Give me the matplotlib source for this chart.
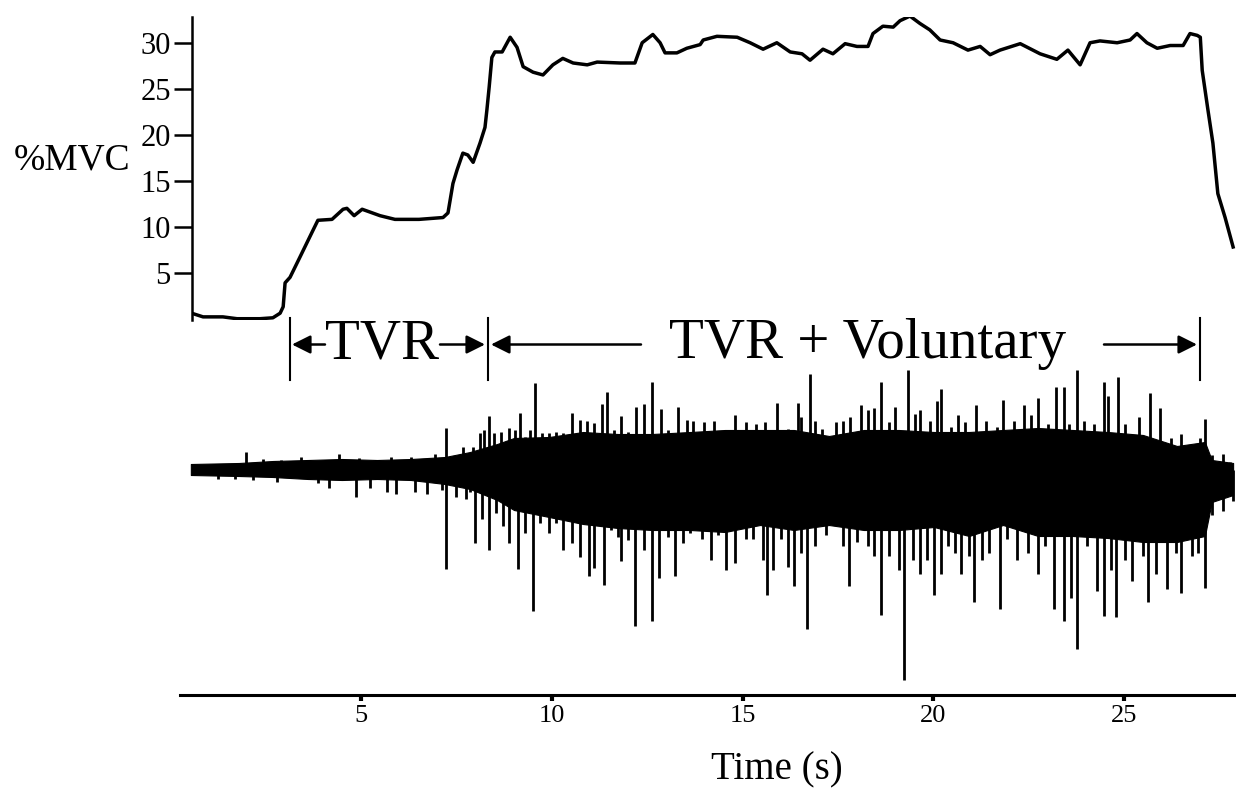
import matplotlib
matplotlib.use("Agg")
import matplotlib.pyplot as plt

plt.rcParams['font.family'] = ['Liberation Serif', 'DejaVu Serif']

# force trace (%MVC)
force_t = [0.56, 0.86, 1.38, 1.75, 2.35, 2.69, 2.88, 2.96, 3.01, 3.14, 3.40, 3.74, 3.87,
           4.24, 4.53, 4.63, 4.82, 5.03, 5.50, 5.89, 6.52, 7.15, 7.28, 7.41, 7.52, 7.67,
           7.80, 7.94, 8.12, 8.25, 8.30, 8.36, 8.43, 8.51, 8.70, 8.91, 9.09, 9.25, 9.51,
           9.77, 10.03, 10.29, 10.56, 10.93, 11.19, 11.79, 12.18, 12.37, 12.65, 12.84,
           12.97, 13.28, 13.54, 13.89, 13.97, 14.33, 14.86, 15.20, 15.54, 15.90, 16.25,
           16.56, 16.77, 17.11, 17.37, 17.69, 18.00, 18.29, 18.42, 18.68, 18.95, 19.13,
           19.39, 19.65, 19.91, 20.18, 20.52, 20.91, 21.23, 21.49, 21.75, 22.28, 22.80,
           23.24, 23.53, 23.85, 24.11, 24.37, 24.82, 25.16, 25.34, 25.60, 25.87, 26.21,
           26.55, 26.73, 26.92, 27.00, 27.05, 27.20, 27.33, 27.46, 27.65, 27.86]
force_v = [0.6, 0.2, 0.2, 0.0, 0.0, 0.1, 0.6, 1.3, 3.9, 4.5, 6.7, 9.6, 10.7,
           10.8, 11.9, 12.0, 11.2, 11.9, 11.2, 10.8, 10.8, 11.0, 11.5, 14.7, 16.2, 18.0,
           17.8, 17.0, 19.1, 20.8, 22.7, 25.2, 28.4, 29.0, 29.0, 30.6, 29.5, 27.4, 26.8,
           26.5, 27.6, 28.3, 27.8, 27.6, 27.9, 27.8, 27.8, 30.0, 30.9, 30.0,
           28.9, 28.9, 29.4, 29.8, 30.3, 30.7, 30.6, 30.0, 29.3, 30.0, 29.0,
           28.8, 28.1, 29.3, 28.8, 29.9, 29.6, 29.6, 31.0, 31.8, 31.7, 32.4,
           32.9, 32.1, 31.4, 30.3, 30.0, 29.2, 29.6, 28.7, 29.2, 29.9, 28.8,
           28.2, 29.2, 27.6, 30.0, 30.2, 30.0, 30.3, 31.0, 30.0, 29.4, 29.7,
           29.7, 31.0, 30.8, 30.6, 27.0, 22.7, 19.1, 13.6, 11.0, 7.8]

# EMG dense core (upper / lower edge, arbitrary units)
emg_t = [0.54, 1.80, 2.69, 3.61, 4.50, 5.42, 6.31, 7.20, 7.86, 8.57, 9.01, 9.93, 10.82,
         11.73, 12.63, 13.63, 14.54, 15.46, 16.35, 17.27, 18.18, 19.10, 20.02, 20.94,
         21.83, 22.75, 23.66, 24.58, 25.50, 26.39, 27.12, 27.30, 27.86]
emg_hi = [0.06, 0.07, 0.09, 0.10, 0.11, 0.10, 0.11, 0.13, 0.18, 0.26, 0.32, 0.33, 0.38,
          0.36, 0.36, 0.38, 0.40, 0.40, 0.40, 0.34, 0.40, 0.40, 0.38, 0.38,
          0.40, 0.42, 0.40, 0.38, 0.35, 0.24, 0.28, 0.10, 0.07]
emg_lo = [-0.05, -0.06, -0.07, -0.09, -0.10, -0.09, -0.10, -0.14, -0.19, -0.30, -0.40,
          -0.47, -0.54, -0.58, -0.60, -0.60, -0.62, -0.55, -0.60, -0.55, -0.60, -0.60,
          -0.57, -0.66, -0.55, -0.66, -0.66, -0.68, -0.72, -0.72, -0.66, -0.32, -0.25]

# EMG spikes reaching above the band
up_t = [1.99, 2.44, 2.89, 3.43, 4.42, 4.96, 5.78, 6.32, 6.95, 7.22, 7.67,
        7.94, 8.12, 8.23, 8.35, 8.48, 8.66, 8.89, 9.03, 9.16, 9.30, 9.43, 9.55, 9.75,
        9.93, 10.11, 10.29, 10.52, 10.74, 10.92, 11.10, 11.33, 11.46, 11.64, 11.82,
        12.00, 12.20, 12.41, 12.62, 12.86, 13.04, 13.31, 13.54,
        13.71, 13.99, 14.26, 14.54, 14.81, 15.08, 15.36, 15.59, 15.91, 16.18, 16.45,
        16.54, 16.77, 16.91, 17.09, 17.46, 17.64, 17.82, 18.10, 18.28, 18.46, 18.63,
        18.83, 19.01, 19.33, 19.51, 19.65, 19.92, 20.10, 20.21, 20.47, 20.65, 20.83,
        21.11, 21.38, 21.66, 21.84, 22.11, 22.39, 22.57, 22.75, 23.02, 23.21, 23.43,
        23.57, 23.77, 23.94, 24.21, 24.47, 24.58, 24.85, 25.03, 25.40, 25.67, 25.94,
        26.22, 26.49, 26.77, 26.99, 27.13, 27.31, 27.59, 27.77]
up_v = [0.18, 0.11, 0.10, 0.13, 0.16, 0.12, 0.13, 0.13, 0.16, 0.42, 0.23,
        0.23, 0.37, 0.40, 0.54, 0.37, 0.38, 0.42, 0.40, 0.57, 0.33, 0.40, 0.87, 0.37,
        0.37, 0.38, 0.37, 0.57, 0.50, 0.49, 0.47, 0.66, 0.78, 0.40, 0.54,
        0.38, 0.63, 0.66, 0.88, 0.61, 0.40, 0.63, 0.50,
        0.49, 0.48, 0.49, 0.36, 0.55, 0.48, 0.46, 0.48, 0.67, 0.41, 0.67,
        0.53, 0.96, 0.49, 0.41, 0.48, 0.49, 0.53, 0.65, 0.60, 0.62, 0.88,
        0.48, 0.63, 1.00, 0.56, 0.60, 0.49, 0.69, 0.81, 0.43, 0.55, 0.48,
        0.65, 0.49, 0.43, 0.70, 0.49, 0.65, 0.55, 0.72, 0.46, 0.83, 0.83,
        0.46, 1.00, 0.49, 0.46, 0.88, 0.74, 0.93, 0.46, 0.53, 0.77, 0.62,
        0.32, 0.36, 0.25, 0.32, 0.51, 0.15, 0.16, 0.08]

# EMG spikes reaching below the band
down_t = [1.26, 1.71, 2.17, 2.80, 3.88, 4.15, 4.87, 5.24, 5.69, 5.91, 6.41, 6.72, 7.13,
          7.22, 7.49, 7.76,
          7.85, 7.99, 8.17, 8.35, 8.53, 8.71, 8.89, 9.12, 9.30, 9.50, 9.70, 9.93, 10.11,
          10.29, 10.52, 10.74, 10.97, 11.10, 11.37, 11.55, 11.73, 11.82, 12.00, 12.17,
          12.41, 12.62, 12.82, 13.04, 13.22, 13.45, 13.63,
          13.94, 14.17, 14.35, 14.58, 14.81, 15.08, 15.27, 15.54, 15.63, 15.81, 16.00,
          16.18, 16.36, 16.54, 16.68, 16.91, 17.18, 17.37, 17.64, 17.78, 18.00, 18.28,
          18.46, 18.63, 18.83, 19.10, 19.24, 19.46, 19.65, 19.83, 20.01, 20.20, 20.38,
          20.56, 20.74, 20.93, 21.06, 21.29, 21.47, 21.75, 21.93, 22.20, 22.48, 22.75,
          22.93, 23.16, 23.43, 23.62, 23.77, 24.03, 24.30, 24.47, 24.67, 24.80, 25.03,
          25.21, 25.49, 25.62, 25.85, 26.13, 26.36, 26.49, 26.77, 26.95, 27.13, 27.31,
          27.59, 27.86]
down_v = [-0.09, -0.09, -0.10, -0.12, -0.13, -0.18, -0.27, -0.18, -0.22, -0.24, -0.22,
          -0.24, -0.20, -0.99, -0.27, -0.29,
          -0.22, -0.73, -0.49, -0.80, -0.43, -0.56, -0.73, -0.99, -0.63, -1.41, -0.53,
          -0.63, -0.53, -0.80, -0.73, -0.87, -1.06, -0.98, -1.15, -0.60, -0.67, -0.91,
          -0.70, -1.56, -0.80, -1.51, -1.08, -0.67, -1.06, -0.73, -0.63,
          -0.69, -0.90, -0.65, -1.00, -0.93, -0.69, -0.69, -0.90, -1.25, -1.00, -0.69,
          -0.97, -1.16, -0.83, -1.59, -0.76, -0.65, -0.55, -0.76, -1.16, -0.72, -0.76,
          -0.86, -1.45, -0.86, -1.00, -2.10, -0.90, -1.04, -0.90, -1.25, -1.04, -0.76,
          -0.83, -1.04, -0.86, -1.32, -0.90, -0.83, -1.39, -0.69, -0.90, -0.83, -1.04,
          -0.76, -1.39, -1.51, -1.28, -1.79, -0.76, -1.21, -1.46, -1.00, -1.47, -0.90,
          -1.11, -0.86, -1.32, -1.04, -1.19, -0.83, -1.23, -0.86, -0.83, -1.18, -0.45,
          -0.41, -0.31]

xticks = [5, 10, 15, 20, 25]
yticks = [5, 10, 15, 20, 25, 30]

W, H = 1236, 792
px0, pps = 170.25, 38.15   # pixel of t=0, pixels per second


def rect(left, top, right, bottom):
    return [left / W, 1 - bottom / H, (right - left) / W, (bottom - top) / H]


def tx(px):
    return (px - px0) / pps


fig = plt.figure(figsize=(W / 100, H / 100), dpi=100)

# EMG panel with the time axis
ax2 = fig.add_axes(rect(180, 300, 1236, 695))
ax2.patch.set_visible(False)
ax2.fill_between(emg_t, emg_lo, emg_hi, color='black', lw=0.8)
ax2.vlines(up_t, 0, up_v, color='black', lw=2.0)
ax2.vlines(down_t, 0, down_v, color='black', lw=2.0)
ax2.set_xlim(tx(180), tx(1236))
ax2.set_ylim(-2.25, 1.70)
for s in ['top', 'left', 'right']:
    ax2.spines[s].set_visible(False)
ax2.spines['bottom'].set_linewidth(2.2)
ax2.set_yticks([])
ax2.set_xticks(xticks)
ax2.tick_params(axis='x', direction='out', length=4, width=3, labelsize=19, pad=3)
fig.text(777 / W, 1 - 770 / H, 'Time (s)', fontsize=28, ha='center', va='center')

# annotation bars and arrows
bar_y = (0.90, 1.52)
arr_y = 1.255
for px in [289.5, 488, 1200]:
    ax2.plot([tx(px), tx(px)], bar_y, color='black', lw=1.5, clip_on=False)
aprops = dict(arrowstyle='-|>', color='black', lw=1.8, mutation_scale=28,
              shrinkA=0, shrinkB=0)
for start, end in [(325, 292), (440, 485), (641, 491), (1104, 1197)]:
    ax2.annotate('', xy=(tx(end), arr_y), xytext=(tx(start), arr_y),
                 arrowprops=aprops, annotation_clip=False)
ax2.text(tx(382), arr_y, 'TVR', fontsize=41, ha='center', va='center')
ax2.text(tx(868), arr_y, 'TVR + Voluntary', fontsize=41, ha='center', va='center')

# force panel
ax1 = fig.add_axes(rect(191.7, 17, 1236, 320))
ax1.patch.set_visible(False)
ax1.plot(force_t, force_v, color='black', lw=2.5)
ax1.set_xlim(tx(191.7), tx(1236))
ax1.set_ylim(-0.14, 32.8)
for s in ['top', 'right', 'bottom']:
    ax1.spines[s].set_visible(False)
ax1.spines['left'].set_linewidth(1.8)
ax1.set_xticks([])
ax1.set_yticks(yticks)
ax1.tick_params(axis='y', direction='out', length=13, width=1.8, labelsize=22, pad=2)
fig.text(14 / W, 1 - 160 / H, '%MVC', fontsize=27, ha='left', va='center')

fig.savefig('out.png', dpi=100)
